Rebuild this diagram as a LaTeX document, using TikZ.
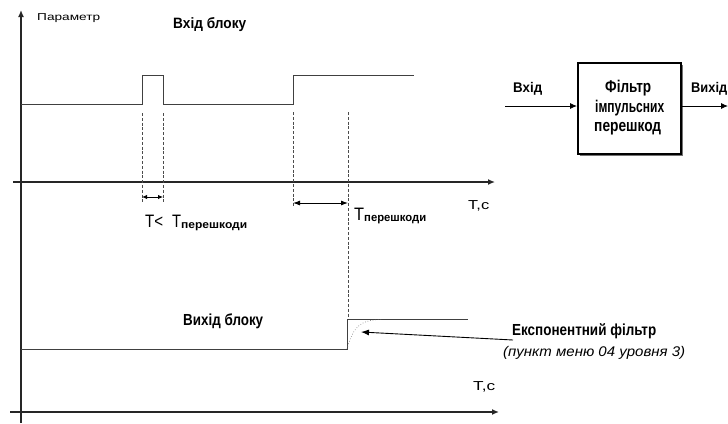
\documentclass[tikz,border=0pt]{standalone}
\usepackage{fontspec}
\usepackage{graphicx}
\setmainfont{Liberation Sans}
\usetikzlibrary{arrows.meta}
\newcommand{\fw}[2]{\resizebox{#1}{\height}{#2}}
\newcommand{\fs}[1]{\fontsize{#1}{#1}\selectfont}
\begin{document}
\begin{tikzpicture}[x=1pt,y=-1pt,
  axis/.style={line width=1.6pt,draw=black!85},
  sig/.style={line width=1pt,draw=black!75},
  guide/.style={line width=1pt,draw=black!70,dash pattern=on 3pt off 1.8pt},
  tip/.style={-{Latex[length=7pt,width=6pt]}},
  lbl/.style={inner sep=0pt,anchor=base west}
]
\useasboundingbox (0,0) rectangle (728,423);
% axes
\coordinate (yb) at (21,423);
\coordinate (yt) at (21,10);
\coordinate (x1a) at (13,182);
\coordinate (x1b) at (495,182);
\coordinate (x2a) at (10,412);
\coordinate (x2b) at (499,412);
\draw[axis,tip] (yb) -- (yt);
\draw[line width=1.3pt,draw=black!85,tip] (x1a) -- (x1b);
\draw[axis,tip] (x2a) -- (x2b);
\node[lbl] (par) at (37,20) {\fw{63pt}{\fs{10}Параметр}};
\node[lbl] (tc1) at (468,209) {\fw{21pt}{\fs{13}T,c}};
\node[lbl] (tc2) at (473,390) {\fw{22pt}{\fs{13}T,c}};
% input signal
\draw[sig] (21,104) -- (142,104) -- (142,75) -- (163,75) -- (163,104) -- (293,104) -- (293,75) -- (414,75);
\node[lbl] (vhb) at (173,28) {\fw{73pt}{\fs{15}\bfseries Вхід блоку}};
% dashed guides
\coordinate (g1t) at (142,113); \coordinate (g1b) at (142,202);
\coordinate (g2t) at (163,113); \coordinate (g2b) at (163,202);
\coordinate (g3t) at (293,112); \coordinate (g3b) at (293,207);
\coordinate (g4t) at (348,112); \coordinate (g4b) at (348,318);
\draw[guide] (g1t) -- (g1b);
\draw[guide] (g2t) -- (g2b);
\draw[guide] (g3t) -- (g3b);
\draw[guide] (g4t) -- (g4b);
% dimension arrows
\coordinate (d1a) at (142,197); \coordinate (d1b) at (163,197);
\coordinate (d2a) at (293,203); \coordinate (d2b) at (348,203);
\draw[line width=0.9pt,{Latex[length=5pt,width=4.5pt]}-{Latex[length=5pt,width=4.5pt]}] (d1a) -- (d1b);
\draw[line width=0.9pt,{Latex[length=7pt,width=5pt]}-{Latex[length=7pt,width=5pt]}] (d2a) -- (d2b);
\node[lbl] (tlt) at (145,227) {\fw{18pt}{\fs{18}T<}\hspace{9pt}\fw{9pt}{\fs{18}T}\fw{66pt}{\fs{11}\bfseries\raisebox{-0.3ex}{перешкоди}}};
\node[lbl] (tp) at (354,220) {\fw{10pt}{\fs{18}T}\fw{62pt}{\fs{11.5}\bfseries\raisebox{-0.3ex}{перешкоди}}};
% output signal
\draw[sig] (21,349) -- (347,349) -- (347,319) -- (468,319);
\draw[line width=0.6pt,draw=black!60,dotted,domain=0:36,samples=40] plot ({347+\x},{349-30*(1-exp(-\x/8))});
\node[lbl] (vyb) at (183,325) {\fw{80pt}{\fs{16}\bfseries Вихід блоку}};
% exponential filter label
\coordinate (ea) at (513,340);
\coordinate (eb) at (361,332);
\draw[line width=0.9pt,{Latex[length=8pt,width=6pt]}-] (eb) -- (ea);
\node[lbl] (ef) at (512,335) {\fw{144pt}{\fs{16}\bfseries Експонентний фільтр}};
\node[lbl] (pm) at (503,356) {\fw{182pt}{\fs{14}\itshape (пункт меню 04 уровня 3)}};
% block
\fill[black!55] (580,65) rectangle (683,156);
\node[draw=black,line width=1.8pt,fill=white,minimum width=103pt,minimum height=91pt,inner sep=0pt,anchor=north west] (blk) at (577,62) {};
\node[lbl] (b1) at (605,92) {\fw{46pt}{\fs{17}\bfseries Фільтр}};
\node[lbl] (b2) at (595,112) {\fw{69pt}{\fs{17}\bfseries імпульсних}};
\node[lbl] (b3) at (594,131) {\fw{67pt}{\fs{17}\bfseries перешкод}};
\coordinate (in) at (505,106);
\coordinate (out) at (728,106);
\draw[line width=0.9pt,-{Latex[length=7pt,width=6pt]}] (in) -- (blk.west|-in);
\draw[line width=0.9pt,-{Latex[length=7pt,width=6pt]}] (blk.east|-out) -- (out);
\node[lbl] (vin) at (513,92) {\fw{29pt}{\fs{14}\bfseries Вхід}};
\node[lbl] (vout) at (691,92) {\fw{36pt}{\fs{14}\bfseries Вихід}};
\end{tikzpicture}
\end{document}
